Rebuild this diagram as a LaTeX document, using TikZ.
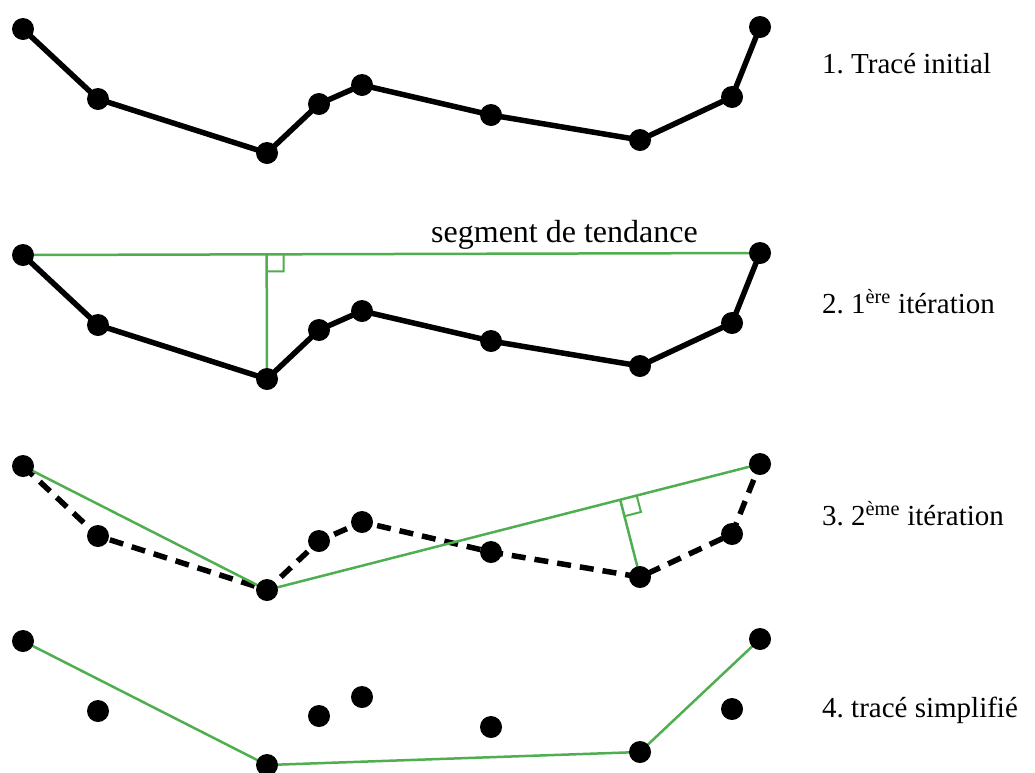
\documentclass[tikz,border=0pt]{standalone}
\usepackage{fontspec}
\setmainfont{Liberation Serif}
\usepackage{xcolor}
\usetikzlibrary{calc}
\definecolor{dpGreen}{HTML}{4FAE4F}
\tikzset{
  dot/.style={circle,fill=black,inner sep=0pt,minimum size=22pt},
  trace/.style={black,line width=5.5pt,line join=round},
  dtrace/.style={trace,dash pattern=on 14pt off 9pt},
  trend/.style={dpGreen,line width=2.5pt},
  rangle/.style={dpGreen,line width=2pt},
  lbl/.style={anchor=base west,inner sep=0pt,font=\fontsize{29}{34}\selectfont}
}
\frenchspacing
\begin{document}
\begin{tikzpicture}[x=1pt,y=-1pt]
\useasboundingbox (0,0) rectangle (1035,772);
% points of the track, one row per step
\foreach \r/\dy in {1/0,2/226,3/437,4/612}{
  \foreach \i/\x/\y in {1/23/29,2/98/99,3/267/153,4/319/104,5/362/85,6/491/115,7/640/140,8/732/97,9/760/27}
    \coordinate (p\r\i) at (\x,\y+\dy);
}
% 1. initial
\draw[trace] (p11) \foreach \i in {2,...,9}{ -- (p1\i)};
% 2. first iteration
\draw[trace] (p21) \foreach \i in {2,...,9}{ -- (p2\i)};
\coordinate (f2) at ($(p21)!(p23)!(p29)$);
\draw[trend] (p21) -- (p29);
\draw[trend] (f2) -- (p23);
\coordinate (f2a) at ($(f2)!17pt!(p29)$);\coordinate (f2b) at ($(f2)!17pt!(p23)$);
\draw[rangle] (f2a) -- ($(f2a)+(f2b)-(f2)$) -- (f2b);
\node[anchor=base west,inner sep=0pt,font=\fontsize{32}{38}\selectfont] (seg) at (431,242) {segment de tendance};
% 3. second iteration
\draw[dtrace] (p31) \foreach \i in {2,...,9}{ -- (p3\i)};
\draw[trend] (p31) -- (p33) -- (p39);
\coordinate (f3) at ($(p33)!(p37)!(p39)$);
\draw[trend] (f3) -- (p37);
\coordinate (f3a) at ($(f3)!17pt!(p39)$);\coordinate (f3b) at ($(f3)!17pt!(p37)$);
\draw[rangle] (f3a) -- ($(f3a)+(f3b)-(f3)$) -- (f3b);
% 4. simplified
\draw[trend] (p41) -- (p43) -- (p47) -- (p49);
% dots on top
\foreach \r in {1,...,4}{
  \foreach \i in {1,...,9}
    \node[dot] (d\r\i) at (p\r\i) {};
}
\node[lbl] (t1) at (822,73) {1. Tracé initial};
\node[lbl] (t2) at (822,313) {2. 1\textsuperscript{ère} itération};
\node[lbl] (t3) at (822,525) {3. 2\textsuperscript{ème} itération};
\node[lbl] (t4) at (822,717) {4. tracé simplifié};
\end{tikzpicture}
\end{document}
